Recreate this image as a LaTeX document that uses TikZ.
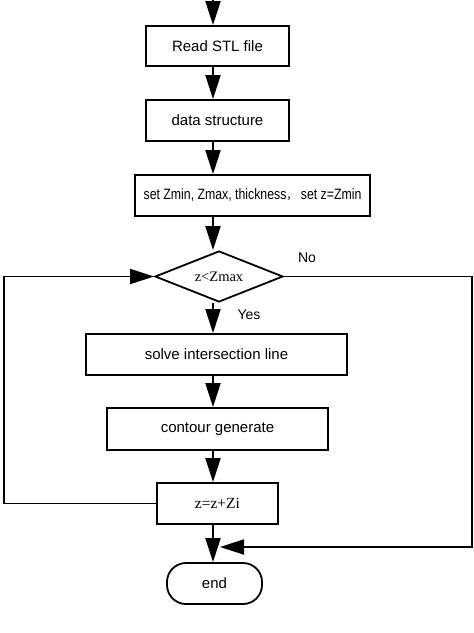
\documentclass[tikz,border=0pt]{standalone}
\usepackage{fontspec}
\setmainfont{Liberation Sans}
\newfontfamily\narrowsans[FakeStretch=0.82]{Liberation Sans}
\newfontfamily\serifz{Liberation Serif}
\newfontfamily\cjk{Noto Sans CJK SC}
\usetikzlibrary{arrows.meta,shapes.geometric}
\begin{document}
\begin{tikzpicture}[x=1pt,y=-1pt,
  line width=1.8pt,
  procbox/.style={draw,rectangle,inner sep=0pt,font=\fontsize{15}{18}\selectfont},
  flowarrow/.style={-{Triangle[length=24pt,width=15pt]}},
  lbl/.style={font=\fontsize{14}{16}\selectfont,inner sep=0pt}]
\useasboundingbox (0,0) rectangle (474,633);
\coordinate (col) at (213,0);
\coordinate (topin) at (213,0);
\node[procbox,minimum width=143pt,minimum height=40pt] (read) at (217.5,46) {Read STL file};
\node[procbox,minimum width=143pt,minimum height=41pt] (data) at (217.5,120.5) {data structure};
\node[procbox,minimum width=235pt,minimum height=41pt,font=\narrowsans\fontsize{15}{18}\selectfont] (set) at (252.5,195.5) {set Zmin, Zmax, thickness{\cjk\fontsize{11}{14}\selectfont，}\ set z=Zmin};
\node[draw,diamond,aspect=2.5,inner sep=0pt,minimum width=128pt,minimum height=51pt,font=\serifz\fontsize{14.5}{16}\selectfont] (dec) at (219,276.5) {z<Zmax};
\node[procbox,minimum width=261pt,minimum height=41pt] (solve) at (216.5,354.5) {solve intersection line};
\node[procbox,minimum width=221pt,minimum height=42pt] (cont) at (217.5,429) {contour generate};
\node[procbox,minimum width=121pt,minimum height=41pt,font=\serifz\fontsize{15.5}{17}\selectfont] (inc) at (217.5,503.5) {z=z+Zi};
\node[draw,rectangle,rounded corners=19pt,inner sep=0pt,minimum width=95pt,minimum height=41pt,font=\fontsize{15}{18}\selectfont] (end) at (214.5,583.5) {end};
\node[lbl] (no) at (307,258) {No};
\node[lbl] (yes) at (249,315) {Yes};
\coordinate (rt) at (472,0);
\coordinate (lt) at (4,0);
\coordinate (merge) at (220,547);
\draw[flowarrow] (topin) -- (read.north -| col);
\draw[flowarrow] (read.south -| col) -- (data.north -| col);
\draw[flowarrow] (data.south -| col) -- (set.north -| col);
\draw[flowarrow] (set.south -| col) -- (dec.north -| col);
\draw[flowarrow] (dec.south -| col) -- (solve.north -| col);
\draw[flowarrow] (solve.south -| col) -- (cont.north -| col);
\draw[flowarrow] (cont.south -| col) -- (inc.north -| col);
\draw[flowarrow] (inc.south -| col) -- (end.north -| col);
\draw[flowarrow] (inc.west) -- (inc.west -| lt) -- (dec.west -| lt) -- (dec.west);
\draw[flowarrow] (dec.east) -- (dec.east -| rt) -- (merge -| rt) -- (merge);
\end{tikzpicture}
\end{document}
